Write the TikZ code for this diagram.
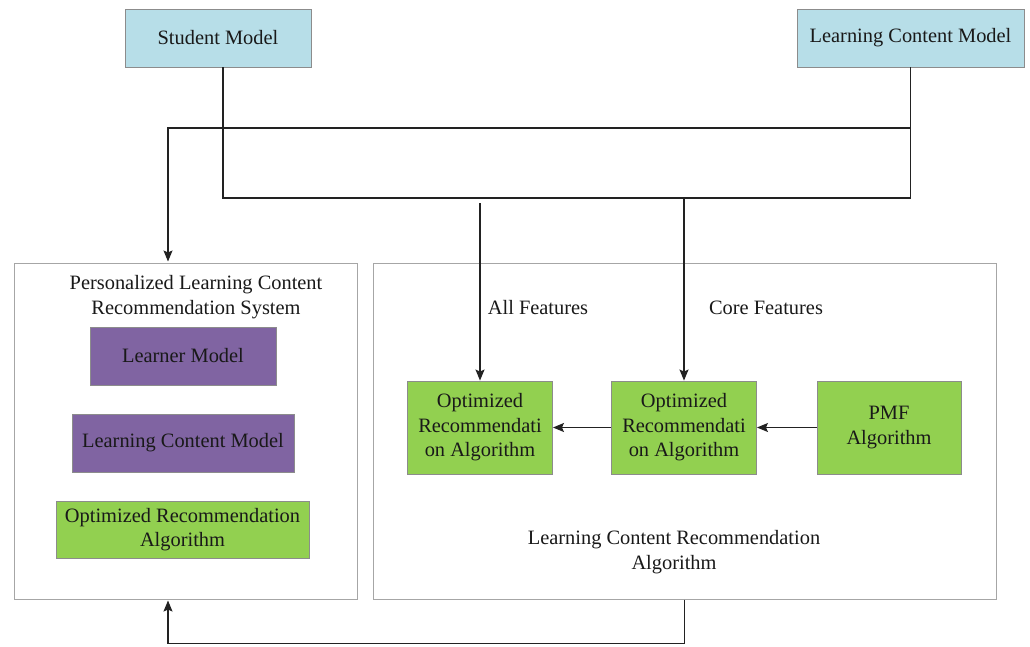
\documentclass[tikz,border=0pt]{standalone}
\usepackage{fontspec}
\setmainfont{Liberation Serif}
\usetikzlibrary{arrows.meta,calc}
\definecolor{lblue}{HTML}{B7DEE8}
\definecolor{purp}{HTML}{8064A2}
\definecolor{grn}{HTML}{92D050}
\definecolor{bord}{HTML}{8C8C8C}
\definecolor{obord}{HTML}{A6A6A6}
\definecolor{lin}{HTML}{222222}
\begin{document}
\begin{tikzpicture}[x=1pt,y=-1pt,
  every node/.style={font=\fontsize{20.4}{24.5}\selectfont, text=black!90, inner sep=0pt, align=center},
  box/.style={draw=bord, line width=0.9pt, rectangle},
  bluebox/.style={box, fill=lblue},
  purpbox/.style={box, fill=purp},
  grnbox/.style={box, fill=grn},
  outer/.style={draw=obord, line width=1pt, rectangle},
  conn/.style={draw=lin, line width=1.2pt},
  arr/.style={conn, -{Stealth[length=11pt,width=9pt,inset=2pt]}}]
\useasboundingbox (0,0) rectangle (1030,646);
\fill[white] (0,0) rectangle (1030,646);
% top models
\node[bluebox, minimum width=186pt, minimum height=58pt] (student) at (218,38) {Student Model};
\node[bluebox, minimum width=227pt, minimum height=58pt] (lcm) at (910.5,38) {Learning Content Model};
% outer boxes
\node[outer, minimum width=343pt, minimum height=336pt] (left) at (185.5,431) {};
\node[outer, minimum width=623pt, minimum height=336pt] (right) at (684.5,431) {};
% left content
\node (ltitle) at (196,297) {Personalized Learning Content\\Recommendation System};
\node[purpbox, minimum width=186pt, minimum height=58pt] (learner) at (183,356) {Learner Model};
\node[purpbox, minimum width=222pt, minimum height=58pt] (lcmp) at (183,443) {Learning Content Model};
\node[grnbox, minimum width=253pt, minimum height=57pt] (ora) at (182.5,529.5) {Optimized Recommendation\\Algorithm};
% right content
\node[grnbox, minimum width=145pt, minimum height=93pt] (g1) at (480,427.5) {Optimized\\Recommendati\\on Algorithm};
\node[grnbox, minimum width=145pt, minimum height=93pt] (g2) at (684,427.5) {Optimized\\Recommendati\\on Algorithm};
\node[grnbox, minimum width=144pt, minimum height=93pt] (pmf) at (889,427.5) {PMF\\Algorithm};
\node (allf) at (538,308) {All Features};
\node (coref) at (766,308) {Core Features};
\node (rtitle) at (674,552) {Learning Content Recommendation\\Algorithm};
% connectors
\coordinate (j1) at (223,198);
\coordinate (j2) at (910,128);
\coordinate (j3) at (480,203);
\coordinate (j4) at (684,198);
\draw[conn] (student.south -| j1) -- (j1) -| (lcm.south);
\draw[arr] (j2) -| ($(left.north)+(-17.5,-1)$);
\draw[arr] (j3) -- (g1.north);
\draw[arr] (j4) -- (g2.north);
\draw[arr] (g2.west) -- (g1.east);
\draw[arr] (pmf.west) -- (g2.east);
\draw[arr] (right.south) -- ++(0,44) -| ($(left.south)+(-17.5,1)$);
\end{tikzpicture}
\end{document}
